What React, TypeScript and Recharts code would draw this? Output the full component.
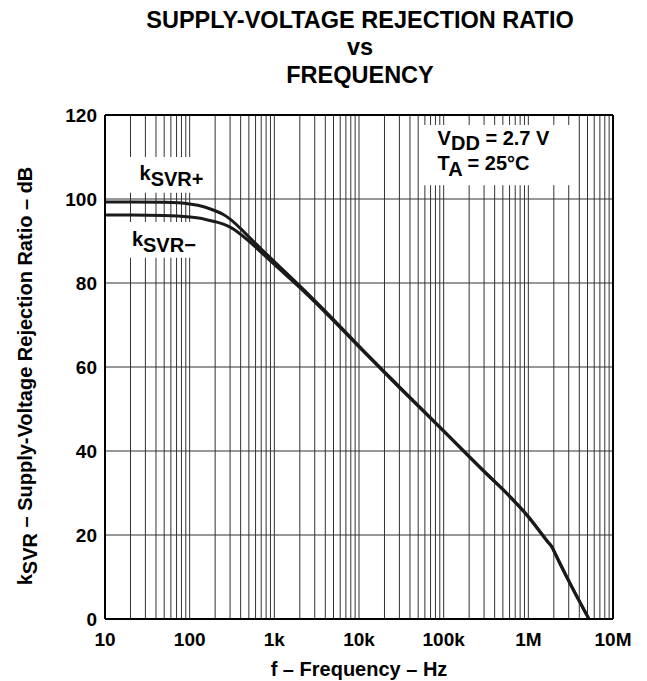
import { LineChart, Line, XAxis, YAxis, CartesianGrid, ReferenceArea, ReferenceLine } from 'recharts'

const FONT = '"Liberation Sans", Arial, Helvetica, sans-serif'

// frequency in Hz, values in dB
const frequency = [
  10, 20, 50, 100, 150, 200, 250, 300, 500, 700, 1000, 2000, 3000, 5000, 10000, 30000,
  100000, 300000, 600000, 1000000, 1400000, 1700000, 1900000, 2100000, 2800000, 5200000,
]
const ksvrPlus = [
  99.3, 99.3, 99.2, 98.8, 98.1, 97.2, 96.3, 95.2, 91.0, 88.1, 85.1, 79.3, 75.8, 71.3, 65.0, 55.3,
  44.8, 35.2, 29.3, 24.4, 20.6, 18.4, 17.2, 15.4, 10.3, 0,
]
const ksvrMinus = [
  96.2, 96.2, 96.1, 95.7, 95.2, 94.6, 94.0, 93.3, 90.0, 87.3, 84.4, 78.9, 75.5, 71.0, 64.8, 55.1,
  44.7, 35.1, 29.2, 24.3, 20.5, 18.3, 17.1, 15.3, 10.2, 0,
]

const decades = [10, 100, 1000, 10000, 100000, 1000000, 10000000]
const decadeLabels = ['10', '100', '1k', '10k', '100k', '1M', '10M']
const xTicks = decades.flatMap((d, i) =>
  i === decades.length - 1 ? [d] : [1, 2, 3, 4, 5, 6, 7, 8, 9].map(m => m * d)
)
const yTicks = [0, 20, 40, 60, 80, 100, 120]

const data = frequency.map((f, i) => ({ f, plus: ksvrPlus[i], minus: ksvrMinus[i] }))

function formatFreq(v: number) {
  const i = decades.indexOf(v)
  return i >= 0 ? decadeLabels[i] : ''
}

const textStyle = { fontFamily: FONT, fontWeight: 700, fill: '#000' }

function KLabel({ viewBox, sign, dx, dy }: any) {
  if (!viewBox) return null
  return (
    <text x={viewBox.x + dx} y={viewBox.y + dy} fontSize={20} {...textStyle}>
      k<tspan dy={6}>SVR{sign}</tspan>
    </text>
  )
}

function ConditionLabel({ viewBox }: any) {
  if (!viewBox) return null
  const x = viewBox.x + 18
  const y = viewBox.y
  return (
    <g>
      <text x={x} y={y + 20} fontSize={20} {...textStyle}>
        V<tspan dy={5}>DD</tspan><tspan dy={-5}> = 2.7 V</tspan>
      </text>
      <text x={x} y={y + 45} fontSize={20} {...textStyle}>
        T<tspan dy={6}>A</tspan><tspan dy={-6}> = 25°C</tspan>
      </text>
    </g>
  )
}

export default function App() {
  return (
    <div style={{ position: 'absolute', left: 0, top: 0, width: 647, height: 681, background: '#fff' }}>
      <LineChart
        width={647}
        height={681}
        data={data}
        margin={{ top: 115, right: 34, bottom: 32, left: 45 }}
      >
        <CartesianGrid stroke="#333" strokeWidth={1} />
        <XAxis
          dataKey="f"
          type="number"
          scale="log"
          domain={[10, 10000000]}
          ticks={xTicks}
          interval={0}
          tickFormatter={formatFreq}
          tickLine={false}
          tickMargin={8}
          height={30}
          axisLine={{ stroke: '#000', strokeWidth: 2 }}
          tick={{ fill: '#000', fontSize: 19, fontWeight: 700, fontFamily: FONT }}
          allowDataOverflow
        />
        <YAxis
          type="number"
          domain={[0, 120]}
          ticks={yTicks}
          interval={0}
          tickLine={false}
          width={60}
          axisLine={{ stroke: '#000', strokeWidth: 2 }}
          tick={{ fill: '#000', fontSize: 19, fontWeight: 700, fontFamily: FONT }}
          allowDataOverflow
        />
        <ReferenceLine y={120} stroke="#000" strokeWidth={2} ifOverflow="visible" />
        <ReferenceLine x={10000000} stroke="#000" strokeWidth={2} ifOverflow="visible" />
        <ReferenceArea
          x1={17} x2={170} y1={101.5} y2={110}
          fill="#fff" fillOpacity={1} stroke="none"
          label={<KLabel sign="+" dx={15} dy={23} />}
        />
        <ReferenceArea
          x1={15} x2={165} y1={86} y2={94.5}
          fill="#fff" fillOpacity={1} stroke="none"
          label={<KLabel sign="−" dx={12} dy={24} />}
        />
        <ReferenceArea
          x1={52000} x2={3800000} y1={103.3} y2={117.6}
          fill="#fff" fillOpacity={1} stroke="none"
          label={<ConditionLabel />}
        />
        <Line dataKey="plus" type="monotone" stroke="#1a1a1a" strokeWidth={3} dot={false} isAnimationActive={false} />
        <Line dataKey="minus" type="monotone" stroke="#1a1a1a" strokeWidth={3} dot={false} isAnimationActive={false} />
      </LineChart>
      <svg width={647} height={681} style={{ position: 'absolute', left: 0, top: 0, pointerEvents: 'none' }}>
        <g textAnchor="middle" {...textStyle} fontSize={23.5}>
          <text x={360} y={28}>SUPPLY-VOLTAGE REJECTION RATIO</text>
          <text x={360} y={55}>vs</text>
          <text x={360} y={83}>FREQUENCY</text>
        </g>
        <text x={359} y={676} textAnchor="middle" fontSize={20} {...textStyle}>
          f – Frequency – Hz
        </text>
        <text
          transform="translate(32, 376) rotate(-90)"
          textAnchor="middle"
          fontSize={20}
          {...textStyle}
        >
          k<tspan dy={5}>SVR</tspan><tspan dy={-5}> – Supply-Voltage Rejection Ratio – dB</tspan>
        </text>
      </svg>
    </div>
  )
}
